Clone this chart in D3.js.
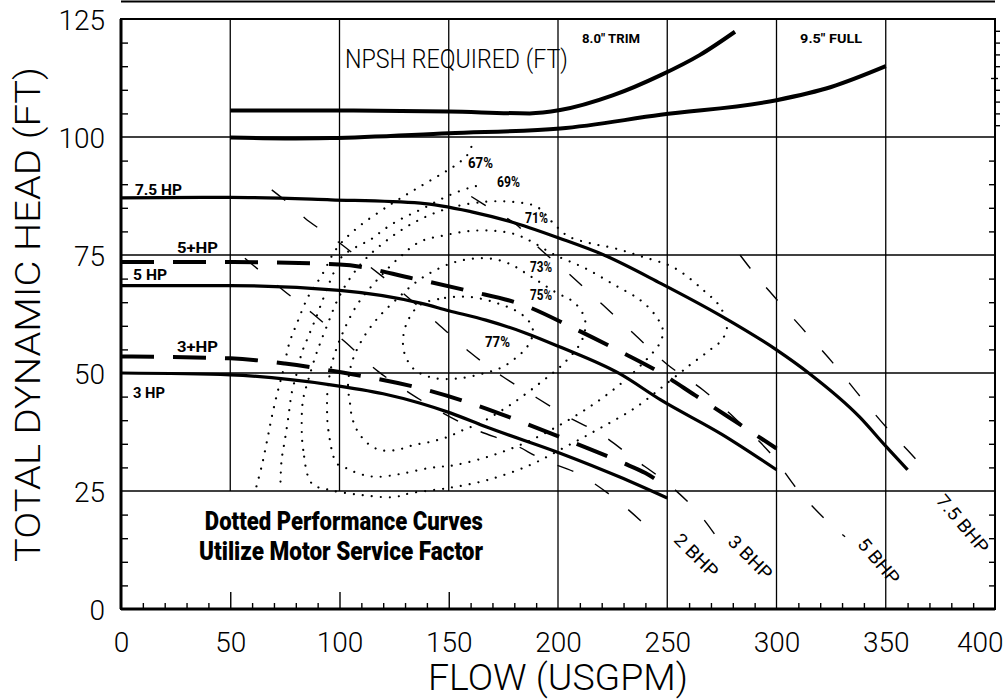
<!DOCTYPE html>
<html><head><meta charset="utf-8">
<script src="https://cdnjs.cloudflare.com/ajax/libs/d3/7.8.5/d3.min.js"></script>
<style>body{margin:0;background:#fff}svg{display:block;background:#fff}</style>
</head><body>
<svg id="c" width="1004" height="700"></svg>
<script>
// ---------- DATA (flow USGPM, head FT) ----------
const flowTicks = [0, 50, 100, 150, 200, 250, 300, 350, 400];
const headTicks = [0, 25, 50, 75, 100, 125];

const npshTrim = [[50,105.6],[100,105.6],[150,105.4],[187,105],[201,105.7],[225,108.8],[247,113.1],[265,117.4],[281,122.3]];
const npshFull = [[50,99.9],[75,99.7],[96,99.8],[150,100.8],[201,101.8],[247,104.7],[300,107.8],[325,110.6],[350,115]];

const hp75 = [[0,87.1],[50,87.2],[96,86.7],[137,86],[160,84.2],[178,82.1],[201,78.5],[221,75],[247,69],[275,62],[300,54.9],[315,49.9],[338,40.7],[350,34.5],[360,29.5]];
const hp5plus = [[0,73.5],[50,73.5],[100,73],[134,70],[160,67.3],[183,64.6],[208,59.3],[230,54.2],[247,50],[263,45.2],[277,41],[300,34]];
const hp5 = [[0,68.5],[50,68.5],[100,67.5],[137,64.8],[150,63.2],[167,61.2],[185,58.5],[201,55.5],[228,49.9],[247,44.3],[275,37],[300,29.5]];
const hp3plus = [[0,53.5],[50,53.1],[75,52],[100,50.2],[134,47.1],[160,43.6],[183,39.7],[208,35.1],[230,30.9],[240,28.8],[250,25.8]];
const hp3 = [[0,50],[50,49.6],[96,47.5],[120,45.6],[137,43.6],[151,41.5],[167,38.6],[201,33],[228,28],[250,23.5]];

const bhp2 = [[56.7,74.3],[74.1,67.6],[87.4,62.7],[102.5,56.6],[117.8,50.3],[132.3,45.7],[147,41.6],[162.8,37.9],[178.8,35.1],[193.3,31.6],[208.6,28.8],[223.8,24.2],[238.3,18.5],[245.3,15.3]];
const bhp3 = [[69,88.8],[76.6,86],[84.2,82.8],[99.3,77.8],[114,72.5],[129.1,66.9],[144.6,60.6],[159.7,54.4],[174.8,49.2],[190.4,44.7],[204.6,40.7],[220.1,36.9],[234.3,32],[249.9,26.7],[264,20.5],[271.9,15.7]];
const bhp5 = [[160.3,87.4],[168.9,84.9],[181,81.4],[190.8,76.7],[205.5,70.8],[220.6,64.4],[235.2,58.1],[250.3,51.7],[266.4,46.4],[281.9,40],[297,33.1],[309.8,25.2],[323.6,18.4],[331.4,15.3]];
const bhp75 = [[283.3,75],[290,71],[297,67.2],[311.7,59.5],[325.9,52.1],[339.6,44.3],[353.3,36.9],[361.1,33.1],[370.3,28.4]];

const eff67 = [[62,26],[64.5,30.5],[67,36],[69,40.7],[71.5,45.7],[74.3,50.6],[77,56.3],[80.5,60.5],[85.7,66.2],[92,70.8],[98.7,76.4],[108,80.7],[123,85.6],[135,89],[146,92],[153,94],[158.5,96.2],[161,98.7]];
const eff69 = [[73,27],[73.5,31.6],[75,35.8],[76.6,40.7],[78.1,45.7],[80.4,49.9],[82.7,54.2],[85.7,57.7],[88.8,61.2],[91.1,64],[94.1,67.6],[97.2,71.1],[101,74.6],[108,76.8],[114,78.2],[120,80.3],[126,82.1],[132,83.5],[138.4,84.9],[145,86.5],[152,88],[160,89.3],[166,90]];
const eff71 = [[87.3,26.6],[83.4,33.7],[82.7,39],[83.3,44.3],[85.7,48.5],[89.2,53.8],[94.1,59.8],[100.2,66.5],[109.4,72.9],[120.8,77.8],[134.6,82],[150.6,85],[167.5,86.3],[180.3,86.2],[190.4,85.2],[197.3,82],[204.6,79],[214.6,77.5],[225.2,76.5],[237.5,74.8],[253.5,72.2],[266.4,67.6],[274.2,64],[277.3,59.7],[275,57],[269.6,54.9],[260.4,51.7],[249,47.5],[235.2,42.6],[219.2,38.3],[203.2,34.3],[187.2,30.5],[167.5,27.3],[149.2,25.6],[133.2,24.6],[124.5,23.7],[109.4,24.2],[95.7,25.2]];
const eff73 = [[98.7,30.9],[94.9,37.9],[94.3,42.8],[94.7,47.1],[97,52.8],[101.1,58.1],[108,64.4],[117.2,69.7],[127.7,74.6],[136.8,77.8],[148.3,79.2],[159.7,80.1],[171.2,80.1],[180.3,79.4],[188.1,77.8],[198.6,75],[212.4,72.2],[226.1,68.6],[237.5,65.5],[244.4,62.3],[248,59.1],[246.7,56.4],[241.2,53.2],[230.7,48.5],[216.9,43.6],[200.9,39],[184.9,35.2],[168.9,32.4],[152.9,30.5],[141.4,29.9],[127.7,28.6],[117,28],[109.4,28.6],[103.3,29.8]];
const eff75 = [[104.8,43.6],[103.9,47.5],[105.7,52.3],[110.3,57],[117.6,61.7],[126.8,65.9],[134.6,69.1],[142.3,71.4],[151.5,73.3],[160.6,74.2],[169.8,74.2],[178,73.1],[184.4,71.4],[198.6,67.2],[207.8,64.8],[212.4,61.2],[211,57],[203.2,52.3],[191.8,47.9],[178,43.2],[164.3,39.4],[156.5,37.9],[149.2,36.4],[141.4,35.4],[133.6,34.7],[126.3,33.7],[118.5,33.7],[112.6,35.2],[108,37.9],[105.7,40.7]];
const eff77 = [[136.8,64.4],[148.3,65.9],[159.7,66.1],[172.1,64.8],[182.6,62.7],[187.2,60.6],[188.6,58.5],[185.8,55.5],[181.2,53.4],[174.8,51.3],[166.6,50],[155.1,48.9],[143.7,48.9],[134.6,50.6],[130,53.8],[129.1,57.4],[131.4,61.2]];

// ---------- CHART ----------
const svg = d3.select("#c");
const x = d3.scaleLinear().domain([0, 400]).range([121, 995]);
const y = d3.scaleLinear().domain([0, 125]).range([609, 19]);
const thin = "Roboto, 'Liberation Sans', sans-serif";
const narrow = "'Liberation Sans Narrow', 'Roboto', 'Liberation Sans', sans-serif";

svg.append("rect").attr("width",1004).attr("height",700).attr("fill","#fff");

// remnant of table above
svg.append("line").attr("x1", x(0)).attr("x2", x(400)).attr("y1", 1.5).attr("y2", 1.5)
  .attr("stroke", "#000").attr("stroke-width", 2);

// grid
const grid = svg.append("g").attr("stroke", "#000").attr("stroke-width", 1.3);
[25, 50, 75, 100].forEach(v => grid.append("line").attr("x1", x(0)).attr("x2", x(400)).attr("y1", y(v)).attr("y2", y(v)));
[50, 100, 150].forEach(v => grid.append("line").attr("x1", x(v)).attr("x2", x(v)).attr("y1", y(125)).attr("y2", y(25)));
[200, 250, 300, 350].forEach(v => grid.append("line").attr("x1", x(v)).attr("x2", x(v)).attr("y1", y(125)).attr("y2", y(0)));

// frame
svg.append("rect").attr("x", x(0)).attr("y", y(125)).attr("width", x(400) - x(0)).attr("height", y(0) - y(125))
  .attr("fill", "none").attr("stroke", "#000").attr("stroke-width", 2);
svg.append("line").attr("x1", x(0)).attr("x2", x(0)).attr("y1", y(125)).attr("y2", y(0)).attr("stroke", "#000").attr("stroke-width", 3);
svg.append("line").attr("x1", x(0)).attr("x2", x(400)).attr("y1", y(0)).attr("y2", y(0)).attr("stroke", "#000").attr("stroke-width", 3);

// minor ticks via axes
function tickAxis(axis, tr) {
  const a = svg.append("g").attr("transform", tr).call(axis);
  a.select(".domain").remove();
  a.selectAll("line").attr("stroke", "#000").attr("stroke-width", 1.4);
  return a;
}
const yMinor = d3.range(5, 125, 5).filter(v => v % 25 !== 0);
tickAxis(d3.axisLeft(y).tickValues(yMinor).tickSize(-7).tickFormat(""), `translate(${x(0)},0)`);
tickAxis(d3.axisRight(y).tickValues(yMinor.filter(v => v < 100)).tickSize(-6).tickFormat(""), `translate(${x(400)},0)`);
tickAxis(d3.axisRight(y).tickValues([102.5,105,107.5,110,115,117.5,120,122.5]).tickSize(5).tickFormat(""), `translate(${x(400)},0)`);
tickAxis(d3.axisRight(y).tickValues([112.5]).tickSize(7).tickFormat(""), `translate(${x(400)-4},0)`);
const xMinor = d3.range(10, 400, 10).filter(v => v % 50 !== 0);
tickAxis(d3.axisBottom(x).tickValues(xMinor).tickSize(-6).tickFormat(""), `translate(0,${y(0)})`);
tickAxis(d3.axisBottom(x).tickValues([50, 100, 150]).tickSize(-17).tickFormat(""), `translate(0,${y(0)})`);

// tick labels
const xa = svg.append("g").attr("transform", `translate(0,${y(0)})`)
  .call(d3.axisBottom(x).tickValues(flowTicks).tickSize(0).tickPadding(23).tickFormat(d3.format("d")));
xa.select(".domain").remove();
xa.attr("font-size", 28).attr("font-family", thin).attr("font-weight", 300);
// keep the last label inside the page
xa.selectAll("text").filter(d => d === 400).attr("text-anchor", "end").attr("x", 1003 - x(400));
const ya = svg.append("g").attr("transform", `translate(${x(0)},0)`)
  .call(d3.axisLeft(y).tickValues(headTicks).tickSize(0).tickPadding(16).tickFormat(d3.format("d")));
ya.select(".domain").remove();
ya.attr("font-size", 28).attr("font-family", thin).attr("font-weight", 300);
ya.selectAll("text").attr("dy", "0.36em");

// axis titles
svg.append("text").attr("transform", `translate(40,${(562+67)/2}) rotate(-90)`)
  .attr("text-anchor", "middle").attr("font-family", thin).attr("font-weight", 300).attr("font-size", 35)
  .attr("textLength", 495).attr("lengthAdjust", "spacingAndGlyphs").text("TOTAL DYNAMIC HEAD (FT)");
svg.append("text").attr("x", 558).attr("y", 690).attr("text-anchor", "middle")
  .attr("font-family", thin).attr("font-weight", 300).attr("font-size", 37)
  .attr("textLength", 260).attr("lengthAdjust", "spacingAndGlyphs").text("FLOW (USGPM)");

// clip
svg.append("clipPath").attr("id", "plot").append("rect")
  .attr("x", x(0)).attr("y", y(125)).attr("width", x(400) - x(0)).attr("height", y(0) - y(125));
const plot = svg.append("g").attr("clip-path", "url(#plot)");

const open = d3.line().x(d => x(d[0])).y(d => y(d[1])).curve(d3.curveCatmullRom.alpha(0.5));
const closed = d3.line().x(d => x(d[0])).y(d => y(d[1])).curve(d3.curveCatmullRomClosed.alpha(0.5));
const mono = d3.line().x(d => x(d[0])).y(d => y(d[1])).curve(d3.curveMonotoneX);

// efficiency contours (dotted)
[[eff67, open], [eff69, open], [eff71, closed], [eff73, closed], [eff75, closed], [eff77, closed]].forEach(([d, gen]) => {
  plot.append("path").attr("d", gen(d)).attr("fill", "none").attr("stroke", "#000")
    .attr("stroke-width", 2.2).attr("stroke-linecap", "round").attr("stroke-dasharray", "0.01,9");
});

// BHP lines (thin long dash)
[bhp2, bhp3, bhp5, bhp75].forEach(d => {
  plot.append("path").attr("d", open(d)).attr("fill", "none").attr("stroke", "#000")
    .attr("stroke-width", 1.4).attr("stroke-dasharray", "17,25");
});

// head curves
[hp75, hp5, hp3].forEach(d => plot.append("path").attr("d", mono(d)).attr("fill", "none")
  .attr("stroke", "#000").attr("stroke-width", 3.2));
[hp5plus, hp3plus].forEach(d => plot.append("path").attr("d", mono(d)).attr("fill", "none")
  .attr("stroke", "#000").attr("stroke-width", 4).attr("stroke-dasharray", "33,19"));
[npshTrim, npshFull].forEach(d => plot.append("path").attr("d", mono(d)).attr("fill", "none")
  .attr("stroke", "#000").attr("stroke-width", 4));

// labels (anchor in data units)
function label(t, fx, fy, o = {}) {
  const el = svg.append("text").attr("x", x(fx)).attr("y", y(fy))
    .attr("font-family", o.family || narrow).attr("font-weight", o.weight || "bold")
    .attr("font-size", o.size || 14).attr("text-anchor", o.anchor || "start").text(t);
  if (o.len) el.attr("textLength", o.len).attr("lengthAdjust", "spacingAndGlyphs");
  if (o.rot) el.attr("transform", `rotate(${o.rot},${x(fx)},${y(fy)})`);
  return el;
}
label("NPSH REQUIRED (FT)", 102.5, 114.6, {family: thin, weight: 300, size: 25, len: 223});
label('8.0" TRIM', 211, 119.9, {size: 12, len: 58});
label('9.5" FULL', 310.8, 119.9, {size: 13, len: 62});

label("7.5 HP", 6.4, 87.7, {size: 15, len: 47});
label("5+HP", 25.6, 75.4, {size: 15, len: 41});
label("5 HP", 5.5, 69.7, {size: 15, len: 34});
label("3+HP", 25.6, 54.4, {size: 15, len: 41});
label("3 HP", 5.5, 44.7, {size: 15, len: 32});

label("67%", 158.8, 93.4, {size: 14, len: 25});
label("69%", 172.1, 89.4, {size: 14, len: 23});
label("71%", 184.9, 81.8, {size: 14, len: 23});
label("73%", 187.2, 71.4, {size: 14, len: 22});
label("75%", 187.2, 65.5, {size: 14, len: 22});
label("77%", 166.6, 55.5, {size: 14, len: 25});

label("2 BHP", 261.3, 10.4, {family: thin, weight: 400, size: 18, anchor: "middle", rot: 45, len: 54});
label("3 BHP", 286, 10, {family: thin, weight: 400, size: 18, anchor: "middle", rot: 45, len: 54});
label("5 BHP", 344.6, 9.3, {family: thin, weight: 400, size: 18, anchor: "middle", rot: 50, len: 54});
label("7.5 BHP", 383, 17.2, {family: thin, weight: 400, size: 18, anchor: "middle", rot: 50, len: 70});

label("Dotted Performance Curves", 102, 16.7, {size: 25, weight: 900, anchor: "middle", len: 278});
label("Utilize Motor Service Factor", 100.7, 10.4, {size: 25, weight: 900, anchor: "middle", len: 284});
</script>
</body></html>
